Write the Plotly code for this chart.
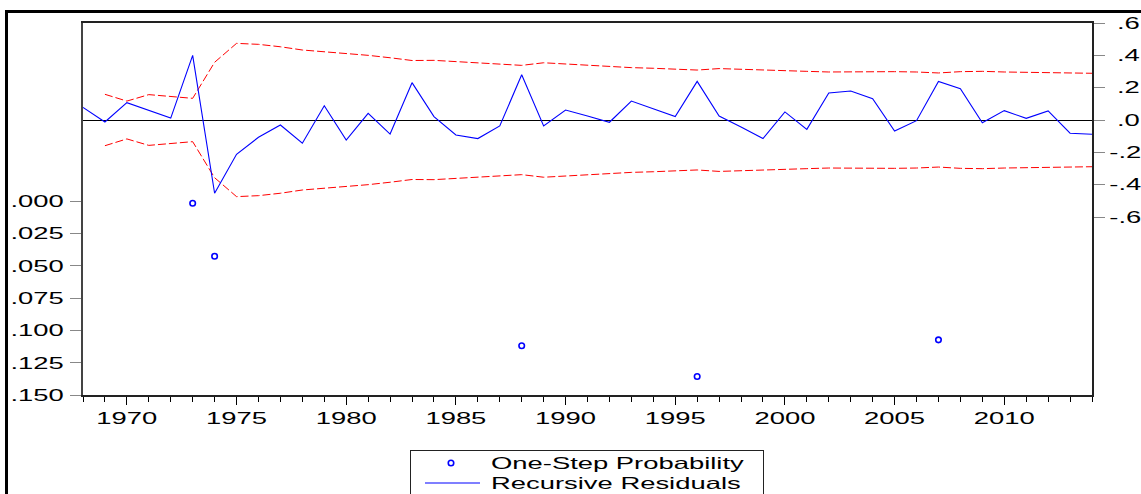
import plotly.graph_objects as go

# ---------------- data ----------------
resid_years = list(range(1968, 2015))
recursive_residuals = [
    0.078, -0.012, 0.107, 0.060, 0.012, 0.400, -0.453, -0.212, -0.107, -0.031,
    -0.144, 0.088, -0.124, 0.041, -0.087, 0.231, 0.021, -0.093, -0.115, -0.037,
    0.280, -0.037, 0.062, 0.025, -0.014, 0.117, 0.070, 0.021, 0.239, 0.025,
    -0.043, -0.115, 0.050, -0.058, 0.167, 0.179, 0.132, -0.068, -0.004, 0.239,
    0.194, -0.017, 0.058, 0.010, 0.056, -0.082, -0.088,
]
band_years = list(range(1969, 2015))
band_upper = [
    0.159, 0.117, 0.157, 0.147, 0.134, 0.357, 0.474, 0.468, 0.453, 0.433,
    0.422, 0.412, 0.400, 0.385, 0.368, 0.369, 0.361, 0.353, 0.348, 0.338,
    0.354, 0.346, 0.338, 0.332, 0.324, 0.320, 0.313, 0.309, 0.318, 0.313,
    0.307, 0.305, 0.301, 0.297, 0.299, 0.299, 0.299, 0.297, 0.291, 0.299,
    0.301, 0.297, 0.295, 0.293, 0.289, 0.289,
]
band_lower = [-v for v in band_upper]  # +/- 2 S.E. band is symmetric

prob_years = [1973, 1974, 1988, 1996, 2007]
one_step_probability = [0.0015, 0.0426, 0.1118, 0.1357, 0.1073]

left_tickvals = [0.000, 0.025, 0.050, 0.075, 0.100, 0.125, 0.150]
left_ticktext = [".000", ".025", ".050", ".075", ".100", ".125", ".150"]
right_tickvals = [0.6, 0.4, 0.2, 0.0, -0.2, -0.4, -0.6]
right_ticktext = ["\u00a0.6", "\u00a0.4", "\u00a0.2", "\u00a0.0", "-.2", "-.4", "-.6"]

FONT = "Liberation Sans, Arial, sans-serif"
W, H = 1141, 494
L, R, T, B = 83, 1092, 23, 395
pw, ph = R - L, B - T


def px_x(p):
    return (p - L) / pw


def px_y(p):
    return (B - p) / ph


fig = go.Figure()

fig.add_trace(go.Scatter(
    x=band_years, y=band_upper, yaxis="y2", mode="lines",
    line=dict(color="#ff0000", width=1, dash="8px,3px"),
    showlegend=False, hoverinfo="skip"))
fig.add_trace(go.Scatter(
    x=band_years, y=band_lower, yaxis="y2", mode="lines",
    line=dict(color="#ff0000", width=1, dash="8px,3px"),
    showlegend=False, hoverinfo="skip"))
fig.add_trace(go.Scatter(
    x=resid_years, y=recursive_residuals, yaxis="y2", mode="lines",
    name="Recursive Residuals", legendrank=2,
    line=dict(color="#0000ff", width=1.1)))
fig.add_trace(go.Scatter(
    x=prob_years, y=one_step_probability, yaxis="y", mode="markers",
    name="One-Step Probability", legendrank=1,
    marker=dict(symbol="circle-open", size=5.5, color="#0000ff",
                line=dict(color="#0000ff", width=1.6))))

fig.update_layout(
    width=W, height=H,
    margin=dict(l=L, r=W - R, t=T, b=H - B, autoexpand=False),
    paper_bgcolor="white", plot_bgcolor="white",
    font=dict(family=FONT, size=16.5, color="black"),
    xaxis=dict(
        range=[1968, 2014], tickmode="linear", tick0=1970, dtick=5,
        ticks="outside", ticklen=8, tickwidth=1, tickcolor="black",
        minor=dict(tickmode="linear", tick0=1968, dtick=1, ticks="outside",
                   ticklen=5, tickwidth=1, tickcolor="black", showgrid=False),
        showline=True, linecolor="#222", linewidth=2, mirror=True,
        showgrid=False, zeroline=False, ticklabelstandoff=-1,
        tickfont=dict(family=FONT, size=16.5, color="black"),
    ),
    yaxis=dict(
        range=[0.150, -0.1381], tickmode="array",
        tickvals=left_tickvals, ticktext=left_ticktext,
        ticks="outside", ticklen=11, tickwidth=1, tickcolor="#888",
        showline=True, linecolor="#444", linewidth=2,
        showgrid=False, zeroline=False, ticklabelstandoff=3,
        tickfont=dict(family=FONT, size=16.5, color="black"),
    ),
    yaxis2=dict(
        overlaying="y", side="right", range=[-1.701, 0.6],
        tickmode="array", tickvals=right_tickvals, ticktext=right_ticktext,
        ticks="outside", ticklen=11, tickwidth=1, tickcolor="#888",
        showline=True, linecolor="#222", linewidth=2,
        showgrid=False, zeroline=True, zerolinecolor="black", zerolinewidth=1,
        ticklabelstandoff=1,
        tickfont=dict(family=FONT, size=16.5, color="black"),
    ),
    legend=dict(
        x=px_x(410), y=px_y(450), xanchor="left", yanchor="top",
        bgcolor="white", bordercolor="#222", borderwidth=1,
        font=dict(family=FONT, size=16.5, color="black"),
        itemwidth=70, tracegroupgap=0,
    ),
    shapes=[
        dict(type="rect", xref="paper", yref="paper",
             x0=px_x(6.5), x1=px_x(1160), y0=px_y(520), y1=px_y(11.5),
             line=dict(color="black", width=3), fillcolor="rgba(0,0,0,0)"),
    ],
)

post = r"""
document.body.style.margin = '0';
document.body.style.padding = '0';
var gd = document.getElementById('{plot_id}');
function stretchAll(){
  var k = 1.66;
  gd.querySelectorAll('.xtick text, .ytick text, .y2tick text, .legendtext').forEach(function(t){
    if (t.getAttribute('data-st')) return;
    var w = t.getComputedTextLength();
    if (!w) return;
    t.setAttribute('textLength', (w * k).toFixed(1));
    t.setAttribute('lengthAdjust', 'spacingAndGlyphs');
    t.setAttribute('data-st', '1');
  });
  var lg = gd.querySelector('.legend');
  if (lg) {
    var bg = lg.querySelector('rect.bg');
    if (bg) bg.setAttribute('width', 353);
    gd.querySelectorAll('clipPath[id^="legend"] rect').forEach(function(r){ r.setAttribute('width', 353); });
    var tr = lg.querySelectorAll('.traces');
    tr.forEach(function(g, i){ g.setAttribute('transform', 'translate(1,' + (13 + 20 * i) + ')'); });
    lg.querySelectorAll('.legendlines path').forEach(function(p){ p.setAttribute('d', 'M14,0h55'); });
  }
}
try { stretchAll(); } catch(e) {}
"""

fig.write_html("out.html", post_script=post, config={"displayModeBar": False})
